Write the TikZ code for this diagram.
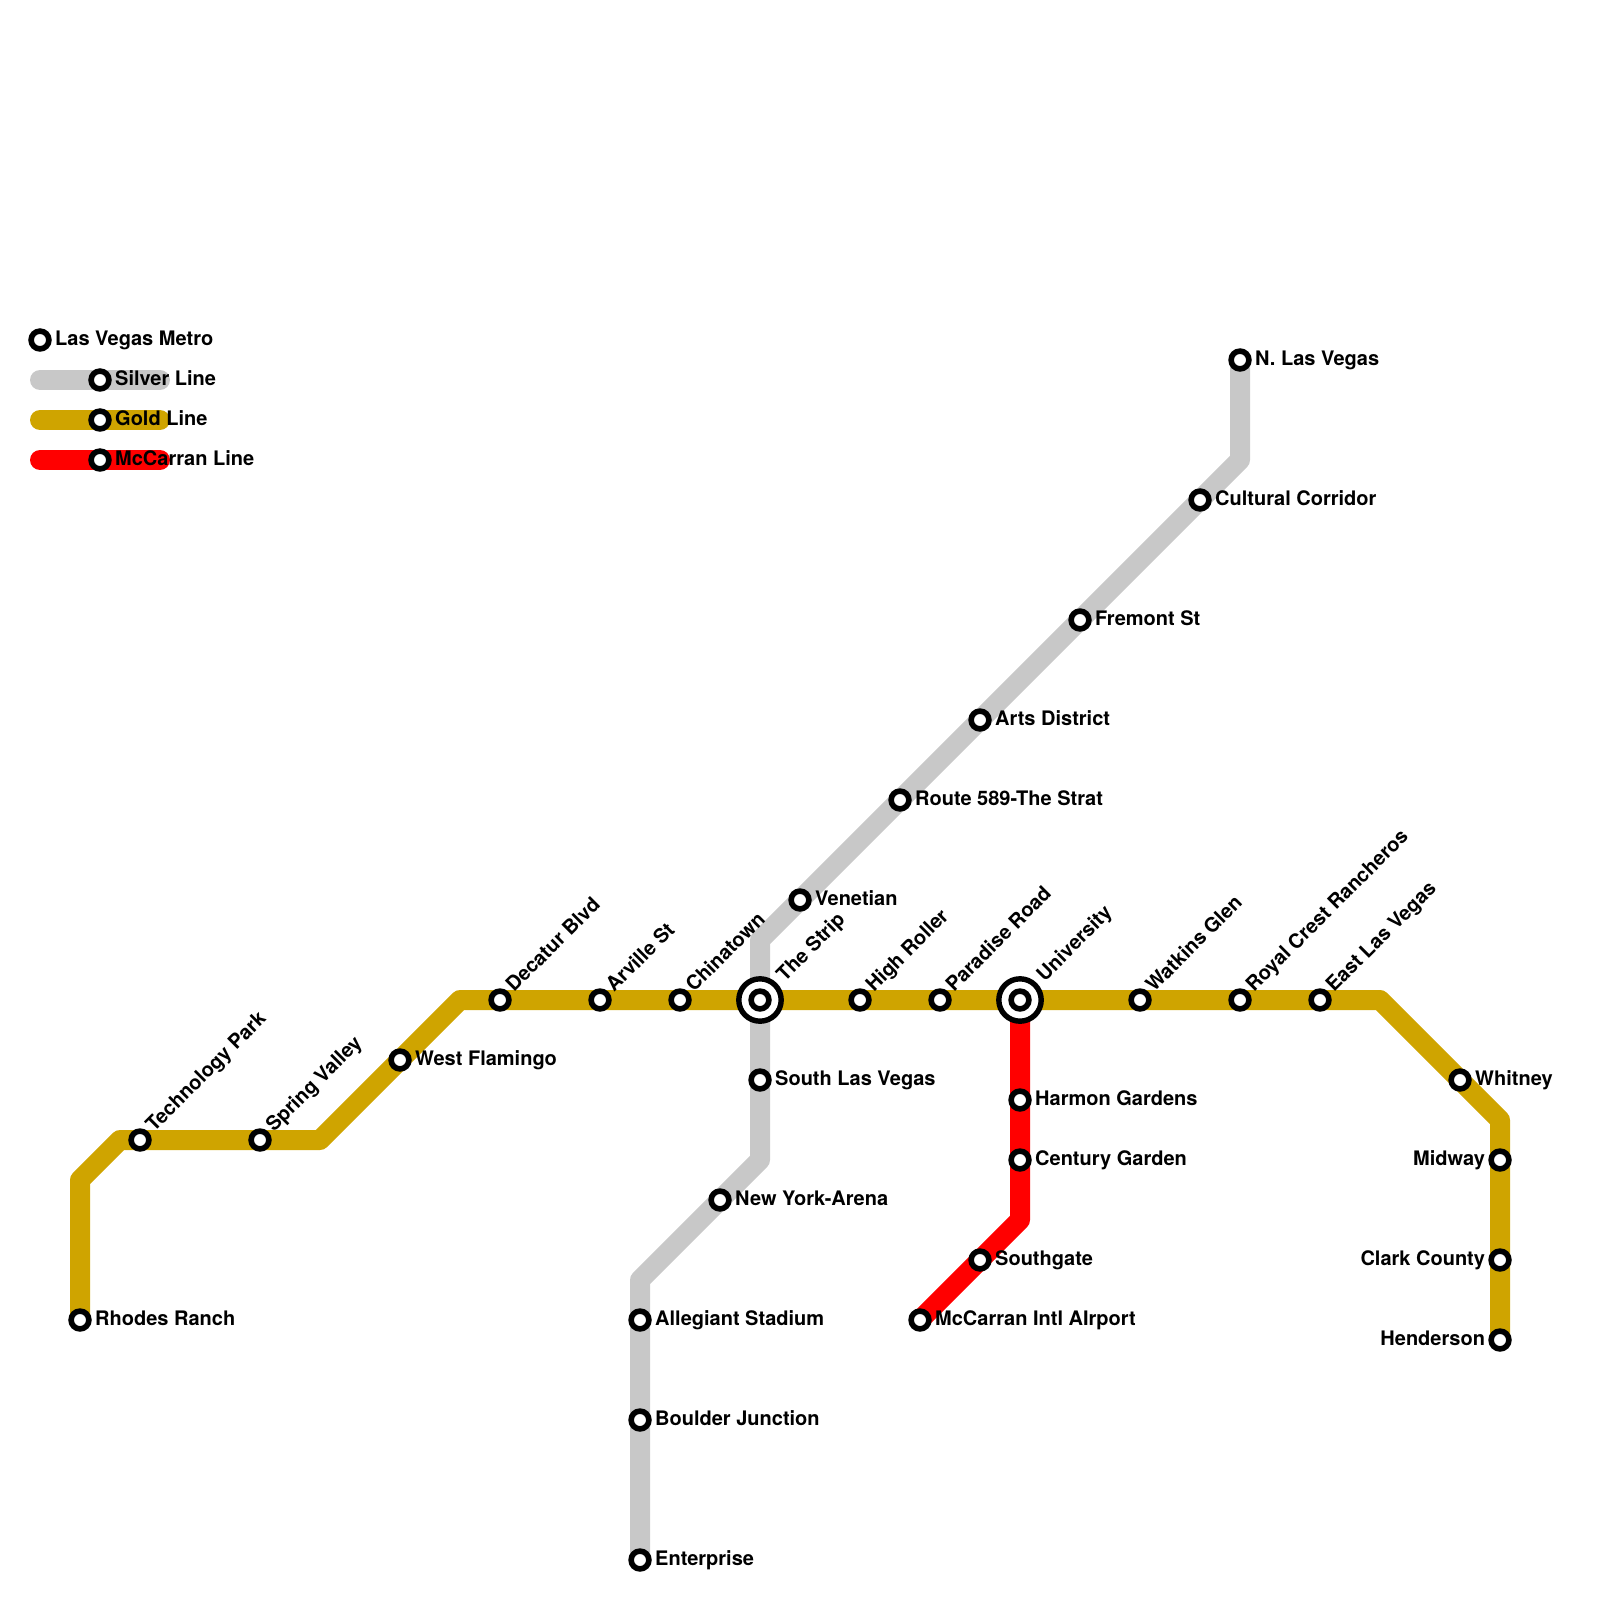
\documentclass[tikz,border=0pt]{standalone}
\usepackage{fontspec}
\setmainfont{TeX Gyre Heros}
\usetikzlibrary{backgrounds}
\definecolor{silverline}{RGB}{200,200,200}
\definecolor{goldline}{RGB}{207,164,0}
\definecolor{redline}{RGB}{255,0,0}
\tikzset{
  x=0.5pt,y=-0.5pt,
  route/.style={line width=10pt,line join=round},
  legendroute/.style={line width=10pt,line cap=round},
  stop/.style={circle,draw=black,fill=white,line width=2.8pt,minimum size=8.9pt,inner sep=0pt},
  hub/.style={circle,draw=black,fill=white,line width=2.7pt,minimum size=21.2pt,inner sep=0pt},
  lbl/.style={font=\fontsize{10}{12}\selectfont\bfseries,inner sep=0pt,text=black},
  rlbl/.style={lbl,anchor=base west,xshift=7.4pt,yshift=-2.9pt},
  llbl/.style={lbl,anchor=base east,xshift=-7.3pt,yshift=-2.9pt},
  dlbl/.style={lbl,anchor=base west,rotate=45,xshift=7.3pt,yshift=-2.5pt},
  hlbl/.style={lbl,anchor=base west,rotate=45,xshift=14.8pt,yshift=-2.5pt},
}
\newcommand{\stn}[5]{% name, x, y, label style, text
  \node[stop] (#1) at (#2,#3) {};
  \node[#4] (#1-t) at (#2,#3) {#5};
}
\begin{document}
\begin{tikzpicture}
\useasboundingbox (0,0) rectangle (1600,1600);
% legend
\stn{title}{40}{340}{rlbl}{Las Vegas Metro}
\coordinate (ls0) at (40,380); \coordinate (ls1) at (160,380);
\coordinate (lg0) at (40,420); \coordinate (lg1) at (160,420);
\coordinate (lr0) at (40,460); \coordinate (lr1) at (160,460);
\stn{legs}{100}{380}{rlbl}{Silver Line}
\stn{legg}{100}{420}{rlbl}{Gold Line}
\stn{legr}{100}{460}{rlbl}{McCarran Line}
% gold stations
\stn{rhodes}{80}{1320}{rlbl}{Rhodes Ranch}
\stn{tech}{140}{1140}{dlbl}{Technology Park}
\stn{spring}{260}{1140}{dlbl}{Spring Valley}
\stn{flamingo}{400}{1060}{rlbl}{West Flamingo}
\stn{decatur}{500}{1000}{dlbl}{Decatur Blvd}
\stn{arville}{600}{1000}{dlbl}{Arville St}
\stn{china}{680}{1000}{dlbl}{Chinatown}
\node[hub] (striphub) at (760,1000) {};
\stn{strip}{760}{1000}{hlbl}{The Strip}
\stn{roller}{860}{1000}{dlbl}{High Roller}
\stn{paradise}{940}{1000}{dlbl}{Paradise Road}
\node[hub] (unihub) at (1020,1000) {};
\stn{uni}{1020}{1000}{hlbl}{University}
\stn{watkins}{1140}{1000}{dlbl}{Watkins Glen}
\stn{royal}{1240}{1000}{dlbl}{Royal Crest Rancheros}
\stn{eastlv}{1320}{1000}{dlbl}{East Las Vegas}
\stn{whitney}{1460}{1080}{rlbl}{Whitney}
\stn{midway}{1500}{1160}{llbl}{Midway}
\stn{clark}{1500}{1260}{llbl}{Clark County}
\stn{henderson}{1500}{1340}{llbl}{Henderson}
% silver stations
\stn{nlv}{1240}{360}{rlbl}{N. Las Vegas}
\stn{cultural}{1200}{500}{rlbl}{Cultural Corridor}
\stn{fremont}{1080}{620}{rlbl}{Fremont St}
\stn{arts}{980}{720}{rlbl}{Arts District}
\stn{strat}{900}{800}{rlbl}{Route 589-The Strat}
\stn{venetian}{800}{900}{rlbl}{Venetian}
\stn{southlv}{760}{1080}{rlbl}{South Las Vegas}
\stn{nyarena}{720}{1200}{rlbl}{New York-Arena}
\stn{allegiant}{640}{1320}{rlbl}{Allegiant Stadium}
\stn{boulder}{640}{1420}{rlbl}{Boulder Junction}
\stn{enterprise}{640}{1560}{rlbl}{Enterprise}
% red stations
\stn{harmon}{1020}{1100}{rlbl}{Harmon Gardens}
\stn{century}{1020}{1160}{rlbl}{Century Garden}
\stn{southgate}{980}{1260}{rlbl}{Southgate}
\stn{airport}{920}{1320}{rlbl}{McCarran Intl AIrport}
% bends
\coordinate (s1) at (1240,460);
\coordinate (s2) at (760,940);
\coordinate (s3) at (760,1160);
\coordinate (s4) at (640,1280);
\coordinate (g1) at (80,1180);
\coordinate (g2) at (120,1140);
\coordinate (g3) at (320,1140);
\coordinate (g4) at (460,1000);
\coordinate (g5) at (1380,1000);
\coordinate (g6) at (1500,1120);
\coordinate (r1) at (1020,1220);
\begin{scope}[on background layer]
  \draw[legendroute,silverline] (ls0) -- (ls1);
  \draw[legendroute,goldline] (lg0) -- (lg1);
  \draw[legendroute,redline] (lr0) -- (lr1);
  \draw[route,silverline] (nlv.center) -- (s1) -- (s2) -- (s3) -- (s4) -- (enterprise.center);
  \draw[route,goldline] (rhodes.center) -- (g1) -- (g2) -- (g3) -- (g4) -- (g5) -- (g6) -- (henderson.center);
  \draw[route,redline] (uni.center) -- (r1) -- (airport.center);
\end{scope}
\end{tikzpicture}
\end{document}
